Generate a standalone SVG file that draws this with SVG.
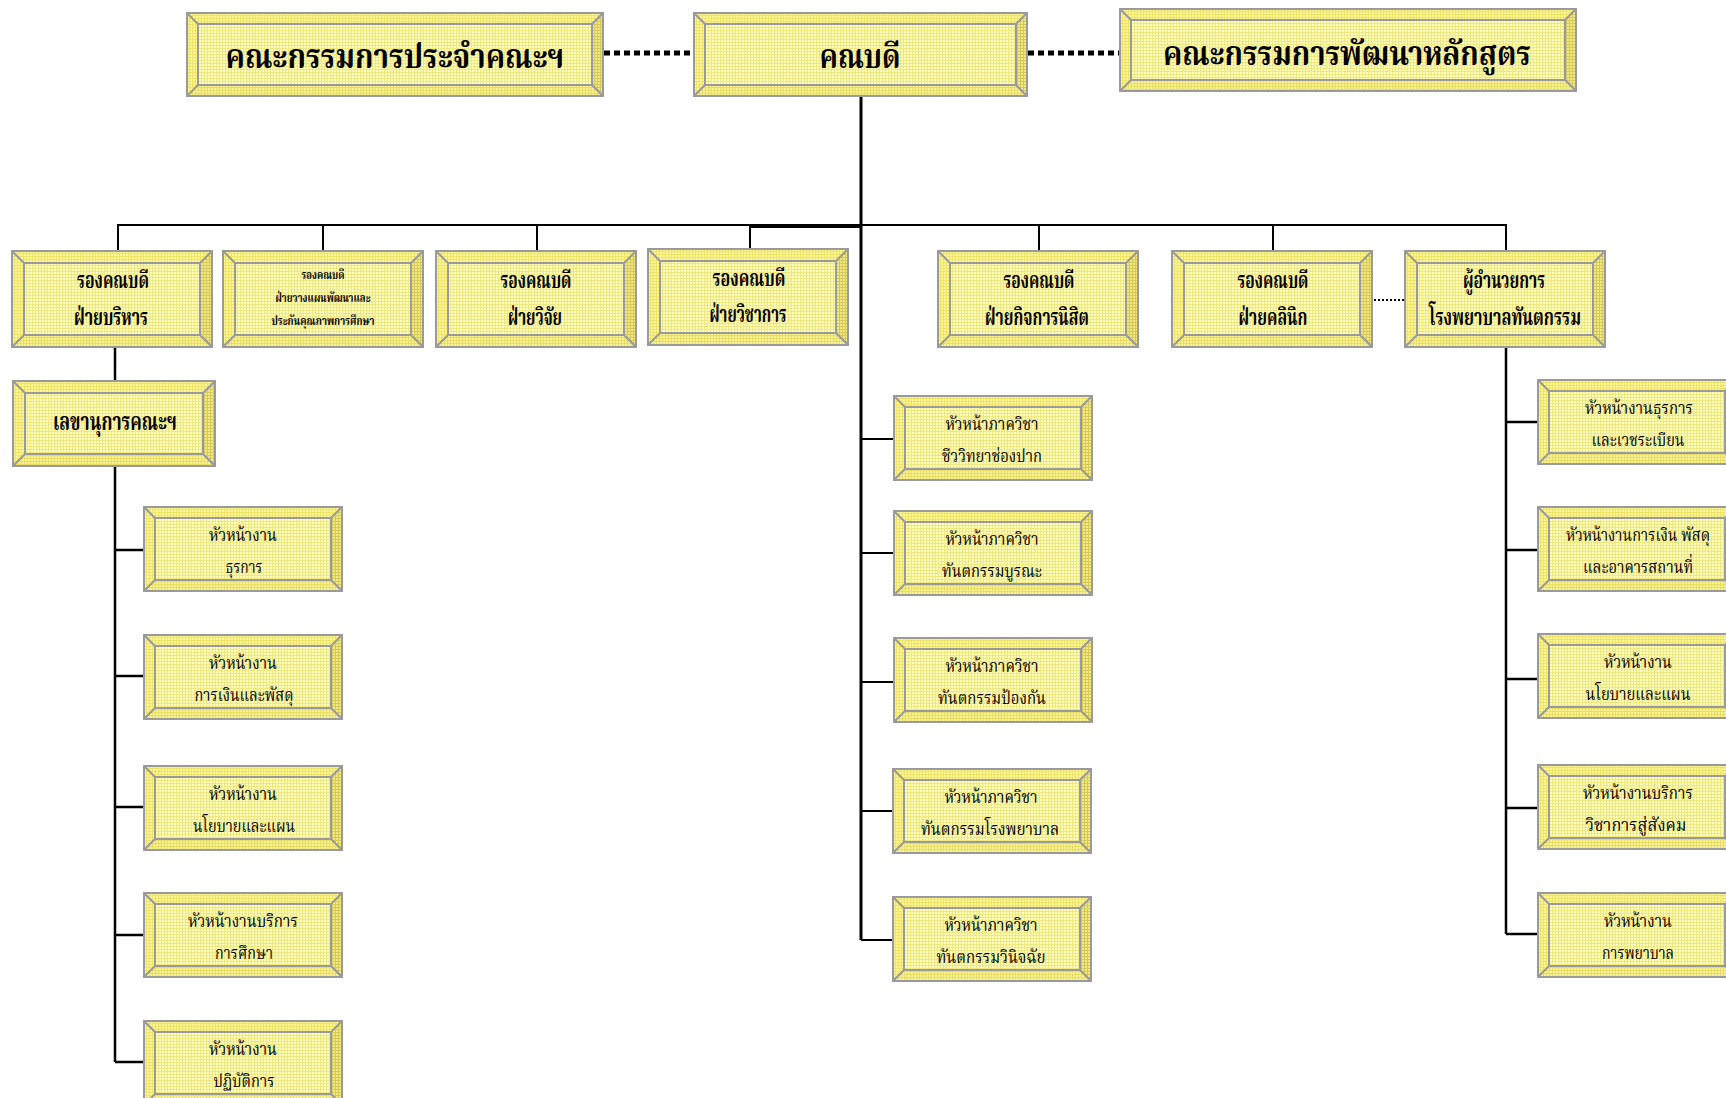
<svg xmlns="http://www.w3.org/2000/svg" xmlns:xlink="http://www.w3.org/1999/xlink" width="1726" height="1098" viewBox="0 0 1726 1098">
<style>
.ln{stroke:#9a9a9a;stroke-width:2}
.c{stroke:#000;fill:none}
.t{font-family:"Noto Serif Thai","Noto Sans Thai","Garuda","Loma","Tlwg Typo","Liberation Serif",serif;text-anchor:middle;fill:#000}
.b{font-weight:bold}
.h1{font-size:34px}
.h2{font-size:23px}
.h3{font-size:13px}
.h4{font-size:18px}
.h5{font-size:25px}
</style>
<defs>
<pattern id="pFace" width="3" height="3" patternUnits="userSpaceOnUse"><rect width="3" height="3" fill="#EFE780"/><rect width="2" height="2" fill="#FFFDC0"/></pattern>
<pattern id="pTop" width="3" height="3" patternUnits="userSpaceOnUse"><rect width="3" height="3" fill="#EFE466"/><rect width="2" height="2" fill="#FBF69A"/></pattern>
<pattern id="pRight" width="3" height="3" patternUnits="userSpaceOnUse"><rect width="3" height="3" fill="#D4C95A"/><rect width="2" height="2" fill="#F2EA80"/></pattern>
<pattern id="pBot" width="3" height="3" patternUnits="userSpaceOnUse"><rect width="3" height="3" fill="#E8DE66"/><rect width="2" height="2" fill="#F8F294"/></pattern>
<g id="bA">
<rect width="416" height="83" fill="url(#pTop)"/>
<polygon points="416,0 416,83 405,72 405,11" fill="url(#pRight)"/>
<polygon points="0,83 416,83 405,72 11,72" fill="url(#pBot)"/>
<rect x="11" y="11" width="394" height="61" fill="url(#pFace)" class="ln"/>
<path d="M0,0L11,11M416,0L405,11M0,83L11,72M416,83L405,72" class="ln"/>
<rect width="416" height="83" fill="none" class="ln"/>
</g>
<g id="bB">
<rect width="333" height="83" fill="url(#pTop)"/>
<polygon points="333,0 333,83 322,72 322,11" fill="url(#pRight)"/>
<polygon points="0,83 333,83 322,72 11,72" fill="url(#pBot)"/>
<rect x="11" y="11" width="311" height="61" fill="url(#pFace)" class="ln"/>
<path d="M0,0L11,11M333,0L322,11M0,83L11,72M333,83L322,72" class="ln"/>
<rect width="333" height="83" fill="none" class="ln"/>
</g>
<g id="bC">
<rect width="456" height="82" fill="url(#pTop)"/>
<polygon points="456,0 456,82 445,71 445,11" fill="url(#pRight)"/>
<polygon points="0,82 456,82 445,71 11,71" fill="url(#pBot)"/>
<rect x="11" y="11" width="434" height="60" fill="url(#pFace)" class="ln"/>
<path d="M0,0L11,11M456,0L445,11M0,82L11,71M456,82L445,71" class="ln"/>
<rect width="456" height="82" fill="none" class="ln"/>
</g>
<g id="bD">
<rect width="200" height="96" fill="url(#pTop)"/>
<polygon points="200,0 200,96 188,84 188,12" fill="url(#pRight)"/>
<polygon points="0,96 200,96 188,84 12,84" fill="url(#pBot)"/>
<rect x="12" y="12" width="176" height="72" fill="url(#pFace)" class="ln"/>
<path d="M0,0L12,12M200,0L188,12M0,96L12,84M200,96L188,84" class="ln"/>
<rect width="200" height="96" fill="none" class="ln"/>
</g>
<g id="bE">
<rect width="202" height="85" fill="url(#pTop)"/>
<polygon points="202,0 202,85 190,73 190,12" fill="url(#pRight)"/>
<polygon points="0,85 202,85 190,73 12,73" fill="url(#pBot)"/>
<rect x="12" y="12" width="178" height="61" fill="url(#pFace)" class="ln"/>
<path d="M0,0L12,12M202,0L190,12M0,85L12,73M202,85L190,73" class="ln"/>
<rect width="202" height="85" fill="none" class="ln"/>
</g>
<g id="bF">
<rect width="198" height="84" fill="url(#pTop)"/>
<polygon points="198,0 198,84 187,73 187,11" fill="url(#pRight)"/>
<polygon points="0,84 198,84 187,73 11,73" fill="url(#pBot)"/>
<rect x="11" y="11" width="176" height="62" fill="url(#pFace)" class="ln"/>
<path d="M0,0L11,11M198,0L187,11M0,84L11,73M198,84L187,73" class="ln"/>
<rect width="198" height="84" fill="none" class="ln"/>
</g>
</defs>
<rect width="1726" height="1098" fill="#fff"/>

<g id="connectors">
<path class="c" stroke-width="3" d="M861,96V940"/>
<path class="c" stroke-width="2" d="M118,251V225H1506V251M323,225V251M537,225V251M1039,225V251M1273,225V251M750,249V227H861"/>
<path class="c" stroke-width="2.5" d="M115,347V381M115,465V1062M115,550H144M115,676H144M115,807H144M115,935H144M115,1062H144"/>
<path class="c" stroke-width="2" d="M861,439H894M861,553H894M861,682H894M861,811H893M861,940H893"/>
<path class="c" stroke-width="2.5" d="M1506,347V934M1506,422H1538M1506,550H1538M1506,679H1538M1506,808H1538M1506,934H1538"/>
<path class="c" stroke-width="5" stroke-dasharray="6 4" d="M604,53H693M1028,53H1119"/>
<path class="c" stroke-width="2" stroke-dasharray="2 2" d="M1374,300H1405"/>
</g>

<g id="committee">
<use href="#bA" x="187" y="13"/>
<text class="t b h1" x="395" y="68" textLength="339" lengthAdjust="spacingAndGlyphs">คณะกรรมการประจำคณะฯ</text>
</g>
<g id="dean">
<use href="#bB" x="694" y="13"/>
<text class="t b h1" x="860" y="68" textLength="81" lengthAdjust="spacingAndGlyphs">คณบดี</text>
</g>
<g id="curriculum">
<use href="#bC" x="1120" y="9"/>
<text class="t b h1" x="1347" y="65" textLength="368" lengthAdjust="spacingAndGlyphs">คณะกรรมการพัฒนาหลักสูตร</text>
</g>

<g id="vd-admin">
<use href="#bD" x="12" y="251"/>
<text class="t b h2" x="113" y="288" textLength="72" lengthAdjust="spacingAndGlyphs">รองคณบดี</text>
<text class="t b h2" x="111" y="325" textLength="74" lengthAdjust="spacingAndGlyphs">ฝ่ายบริหาร</text>
</g>
<g id="vd-plan">
<use href="#bD" x="223" y="251"/>
<text class="t b h3" x="323" y="279" textLength="43" lengthAdjust="spacingAndGlyphs">รองคณบดี</text>
<text class="t b h3" x="323" y="302" textLength="95" lengthAdjust="spacingAndGlyphs">ฝ่ายวางแผนพัฒนาและ</text>
<text class="t b h3" x="323" y="325" textLength="103" lengthAdjust="spacingAndGlyphs">ประกันคุณภาพการศึกษา</text>
</g>
<g id="vd-research">
<use href="#bD" x="436" y="251"/>
<text class="t b h2" x="536" y="288" textLength="71" lengthAdjust="spacingAndGlyphs">รองคณบดี</text>
<text class="t b h2" x="535" y="325" textLength="54" lengthAdjust="spacingAndGlyphs">ฝ่ายวิจัย</text>
</g>
<g id="vd-academic">
<use href="#bD" x="648" y="249"/>
<text class="t b h2" x="749" y="286" textLength="73" lengthAdjust="spacingAndGlyphs">รองคณบดี</text>
<text class="t b h2" x="748" y="322" textLength="77" lengthAdjust="spacingAndGlyphs">ฝ่ายวิชาการ</text>
</g>
<g id="vd-student">
<use href="#bD" x="938" y="251"/>
<text class="t b h2" x="1039" y="288" textLength="71" lengthAdjust="spacingAndGlyphs">รองคณบดี</text>
<text class="t b h2" x="1037" y="325" textLength="104" lengthAdjust="spacingAndGlyphs">ฝ่ายกิจการนิสิต</text>
</g>
<g id="vd-clinic">
<use href="#bD" x="1172" y="251"/>
<text class="t b h2" x="1273" y="288" textLength="71" lengthAdjust="spacingAndGlyphs">รองคณบดี</text>
<text class="t b h2" x="1273" y="325" textLength="69" lengthAdjust="spacingAndGlyphs">ฝ่ายคลินิก</text>
</g>
<g id="hospital-director">
<use href="#bD" x="1405" y="251"/>
<text class="t b h2" x="1504" y="288" textLength="82" lengthAdjust="spacingAndGlyphs">ผู้อำนวยการ</text>
<text class="t b h2" x="1505" y="325" textLength="152" lengthAdjust="spacingAndGlyphs">โรงพยาบาลทันตกรรม</text>
</g>

<g id="secretary">
<use href="#bE" x="13" y="381"/>
<text class="t b h5" x="115" y="430" textLength="124" lengthAdjust="spacingAndGlyphs">เลขานุการคณะฯ</text>
</g>

<g id="l1">
<use href="#bF" x="144" y="507"/>
<text class="t h4" x="243" y="541" textLength="68" lengthAdjust="spacingAndGlyphs">หัวหน้างาน</text>
<text class="t h4" x="244" y="573" textLength="37" lengthAdjust="spacingAndGlyphs">ธุรการ</text>
</g>
<g id="l2">
<use href="#bF" x="144" y="635"/>
<text class="t h4" x="243" y="669" textLength="68" lengthAdjust="spacingAndGlyphs">หัวหน้างาน</text>
<text class="t h4" x="244" y="701" textLength="99" lengthAdjust="spacingAndGlyphs">การเงินและพัสดุ</text>
</g>
<g id="l3">
<use href="#bF" x="144" y="766"/>
<text class="t h4" x="243" y="800" textLength="68" lengthAdjust="spacingAndGlyphs">หัวหน้างาน</text>
<text class="t h4" x="244" y="832" textLength="102" lengthAdjust="spacingAndGlyphs">นโยบายและแผน</text>
</g>
<g id="l4">
<use href="#bF" x="144" y="893"/>
<text class="t h4" x="243" y="927" textLength="110" lengthAdjust="spacingAndGlyphs">หัวหน้างานบริการ</text>
<text class="t h4" x="244" y="959" textLength="58" lengthAdjust="spacingAndGlyphs">การศึกษา</text>
</g>
<g id="l5">
<use href="#bF" x="144" y="1021"/>
<text class="t h4" x="243" y="1055" textLength="68" lengthAdjust="spacingAndGlyphs">หัวหน้างาน</text>
<text class="t h4" x="244" y="1087" textLength="61" lengthAdjust="spacingAndGlyphs">ปฏิบัติการ</text>
</g>

<g id="c1">
<use href="#bF" x="894" y="396"/>
<text class="t h4" x="992" y="430" textLength="93" lengthAdjust="spacingAndGlyphs">หัวหน้าภาควิชา</text>
<text class="t h4" x="992" y="462" textLength="100" lengthAdjust="spacingAndGlyphs">ชีววิทยาช่องปาก</text>
</g>
<g id="c2">
<use href="#bF" x="894" y="511"/>
<text class="t h4" x="992" y="545" textLength="93" lengthAdjust="spacingAndGlyphs">หัวหน้าภาควิชา</text>
<text class="t h4" x="992" y="577" textLength="100" lengthAdjust="spacingAndGlyphs">ทันตกรรมบูรณะ</text>
</g>
<g id="c3">
<use href="#bF" x="894" y="638"/>
<text class="t h4" x="992" y="672" textLength="93" lengthAdjust="spacingAndGlyphs">หัวหน้าภาควิชา</text>
<text class="t h4" x="992" y="704" textLength="108" lengthAdjust="spacingAndGlyphs">ทันตกรรมป้องกัน</text>
</g>
<g id="c4">
<use href="#bF" x="893" y="769"/>
<text class="t h4" x="991" y="803" textLength="93" lengthAdjust="spacingAndGlyphs">หัวหน้าภาควิชา</text>
<text class="t h4" x="990" y="835" textLength="138" lengthAdjust="spacingAndGlyphs">ทันตกรรมโรงพยาบาล</text>
</g>
<g id="c5">
<use href="#bF" x="893" y="897"/>
<text class="t h4" x="991" y="931" textLength="93" lengthAdjust="spacingAndGlyphs">หัวหน้าภาควิชา</text>
<text class="t h4" x="991" y="963" textLength="109" lengthAdjust="spacingAndGlyphs">ทันตกรรมวินิจฉัย</text>
</g>

<g id="r1">
<use href="#bF" x="1538" y="380"/>
<text class="t h4" x="1639" y="414" textLength="108" lengthAdjust="spacingAndGlyphs">หัวหน้างานธุรการ</text>
<text class="t h4" x="1638" y="446" textLength="93" lengthAdjust="spacingAndGlyphs">และเวชระเบียน</text>
</g>
<g id="r2">
<use href="#bF" x="1538" y="507"/>
<text class="t h4" x="1638" y="541" textLength="144" lengthAdjust="spacingAndGlyphs">หัวหน้างานการเงิน พัสดุ</text>
<text class="t h4" x="1638" y="573" textLength="110" lengthAdjust="spacingAndGlyphs">และอาคารสถานที่</text>
</g>
<g id="r3">
<use href="#bF" x="1538" y="634"/>
<text class="t h4" x="1638" y="668" textLength="68" lengthAdjust="spacingAndGlyphs">หัวหน้างาน</text>
<text class="t h4" x="1638" y="700" textLength="105" lengthAdjust="spacingAndGlyphs">นโยบายและแผน</text>
</g>
<g id="r4">
<use href="#bF" x="1538" y="765"/>
<text class="t h4" x="1638" y="799" textLength="110" lengthAdjust="spacingAndGlyphs">หัวหน้างานบริการ</text>
<text class="t h4" x="1636" y="831" textLength="101" lengthAdjust="spacingAndGlyphs">วิชาการสู่สังคม</text>
</g>
<g id="r5">
<use href="#bF" x="1538" y="893"/>
<text class="t h4" x="1638" y="927" textLength="68" lengthAdjust="spacingAndGlyphs">หัวหน้างาน</text>
<text class="t h4" x="1638" y="959" textLength="72" lengthAdjust="spacingAndGlyphs">การพยาบาล</text>
</g>
</svg>
